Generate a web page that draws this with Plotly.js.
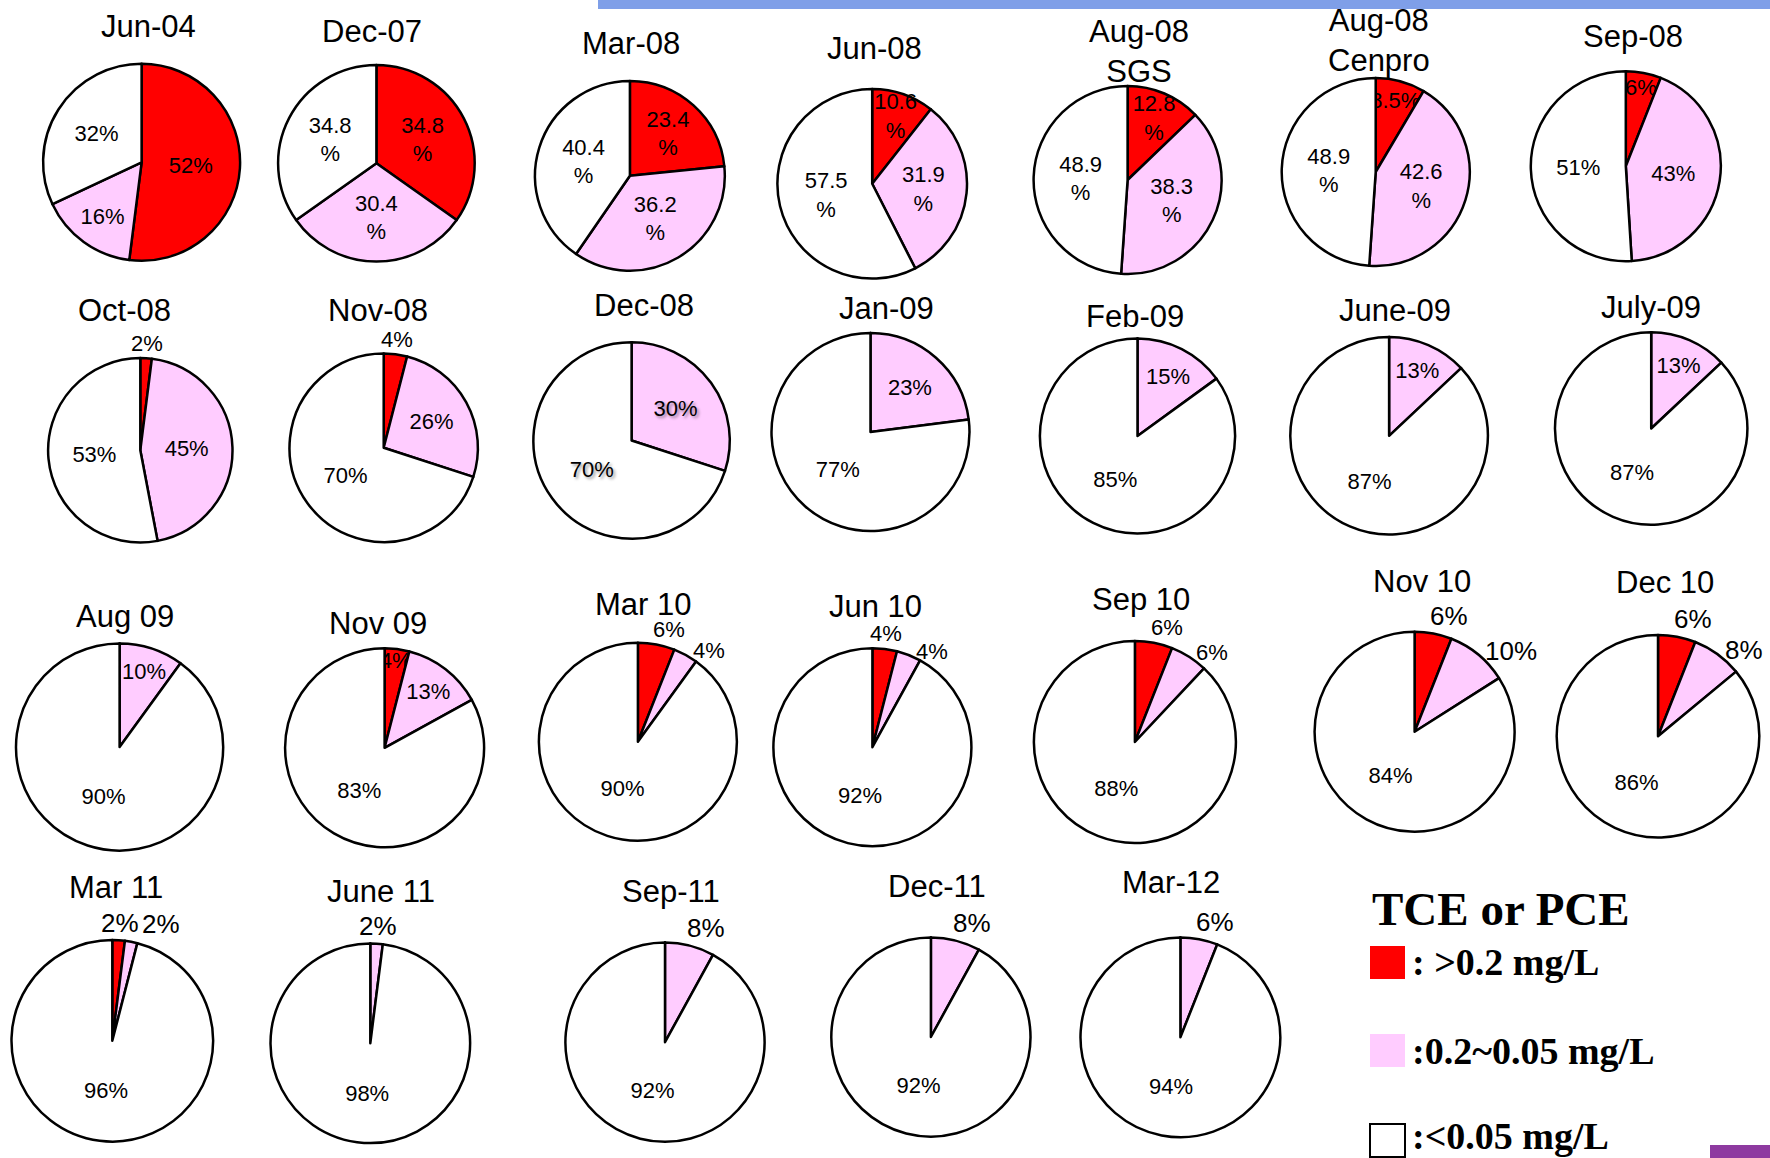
<!DOCTYPE html>
<html><head><meta charset="utf-8">
<script src="https://cdn.plot.ly/plotly-3.0.1.min.js"></script>
<style>html,body{margin:0;padding:0;background:#fff}#chart{width:1770px;height:1158px}</style>
</head><body><div id="chart"></div>
<script>
// ---- data ----
const dates = ['Jun-04','Dec-07','Mar-08','Jun-08','Aug-08<br>SGS','Aug-08<br>Cenpro','Sep-08',
  'Oct-08','Nov-08','Dec-08','Jan-09','Feb-09','June-09','July-09',
  'Aug 09','Nov 09','Mar 10','Jun 10','Sep 10','Nov 10','Dec 10',
  'Mar 11','June 11','Sep-11','Dec-11','Mar-12'];
const categories = ['>0.2 mg/L','0.2~0.05 mg/L','<0.05 mg/L'];
const high = [52,34.8,23.4,10.6,12.8,8.5,6, 2,4,0,0,0,0,0, 0,4,6,4,6,6,6, 2,0,0,0,0];
const mid  = [16,30.4,36.2,31.9,38.3,42.6,43, 45,26,30,23,15,13,13, 10,13,4,4,6,10,8, 2,2,8,8,6];
const low  = [32,34.8,40.4,57.5,48.9,48.9,51, 53,70,70,77,85,87,87, 90,83,90,92,88,84,86, 96,98,92,92,94];
const highLabels = ['52%','34.8<br>%','23.4<br>%','10.6<br>%','12.8<br>%','8.5%','6%',
  '2%','4%','','','','','', '','4%','6%','4%','6%','6%','6%', '2%','','','',''];
const midLabels = ['16%','30.4<br>%','36.2<br>%','31.9<br>%','38.3<br>%','42.6<br>%','43%',
  '45%','26%','30%','23%','15%','13%','13%', '10%','13%','4%','4%','6%','10%','8%', '2%','2%','8%','8%','6%'];
const lowLabels = ['32%','34.8<br>%','40.4<br>%','57.5<br>%','48.9<br>%','48.9<br>%','51%',
  '53%','70%','70%','77%','85%','87%','87%', '90%','83%','90%','92%','88%','84%','86%', '96%','98%','92%','92%','94%'];
const legendTitle = 'TCE or PCE';
const legendTexts = [': >0.2 mg/L', ':0.2~0.05 mg/L', ':<0.05 mg/L'];

// ---- layout / style ----
const W = 1770, H = 1158;
const FONT = 'Liberation Sans, Arial, sans-serif';
const sliceColors = ['#ff0000', '#ffccff', '#ffffff'];
const pieX = [141.6,376.4,629.9,872.2,1127.6,1375.7,1625.8, 140.3,383.7,631.6,870.5,1137.5,1389.1,1651.2,
  119.6,384.6,637.9,872.4,1134.9,1414.6,1658, 112.3,370.3,665,930.9,1180.4];
const pieY = [162.3,163.3,175.8,183.8,180,172,166.2, 450.3,447.8,440.5,432,436,435.8,428.5,
  747,747.8,741.7,747.2,742,731.7,736.2, 1040.8,1043.3,1042.2,1037,1037.3];
const pieR = [98.5,98.3,94.9,94.8,94,94,95, 92.2,94.2,98.2,99,97.6,98.8,96.2,
  103.6,99.5,99,99,101,100,101.3, 100.8,99.8,99.6,99.6,99.9];
const titleX = [148,372,631,874,1139,1379,1633, 124,378,644,887,1135,1395,1651,
  125,378,643,875,1141,1422,1665, 116,381,671,937,1171];
const titleY = [27,31,43,48,52,41,36, 310,310,305,308,317,311,307, 616,623,604,606,599,581,582, 887,891,891,886,882];
// i = label inside the slice, o = label outside the rim, n = no label
const placement = ['iii','iii','iii','iii','iii','iii','iii',
  'oii','oii','nii','nii','nii','nii','nii',
  'nii','iii','ooi','ooi','ooi','ooi','ooi',
  'ooi','noi','noi','noi','noi'];
const outSize = [22,22,22,22,22,22,22, 22,22,22,22,22,22,22, 22,22,22,22,22,26,26, 26,26,26,26,26];
const posMap = {i:'inside', o:'none', n:'none'};

const traces = dates.map((d, i) => ({
  type: 'pie', sort: false, direction: 'clockwise', rotation: 0,
  labels: categories,
  values: [high[i], mid[i], low[i]],
  text: [highLabels[i], midLabels[i], lowLabels[i]],
  textinfo: 'text',
  textposition: placement[i].split('').map(c => posMap[c]),
  insidetextorientation: 'horizontal',
  textfont: {family: FONT, size: 22, color: '#000',
             shadow: i === 9 ? '2px 2px 3px rgba(0,0,0,0.4)' : 'none'},
  marker: {colors: sliceColors, line: {color: '#000', width: 2.5}},
  domain: {x: [(pieX[i]-pieR[i])/W, (pieX[i]+pieR[i])/W],
           y: [1-(pieY[i]+pieR[i])/H, 1-(pieY[i]-pieR[i])/H]},
  showlegend: false,
  hoverinfo: 'label+percent'
}));

const annotations = dates.map((d, i) => ({
  text: d, xref: 'paper', yref: 'paper', x: titleX[i]/W, y: 1 - titleY[i]/H,
  xanchor: 'center', yanchor: 'middle', showarrow: false,
  font: {family: FONT, size: 31, color: '#000'}
}));

// outside labels of the small slices, placed at each slice's mid angle just beyond the rim
const ctx = document.createElement('canvas').getContext('2d');
function textW(t, fs) { ctx.font = fs + 'px "Liberation Sans", Arial, sans-serif'; return ctx.measureText(t).width; }
dates.forEach((d, i) => {
  const vals = [high[i], mid[i], low[i]];
  const texts = [highLabels[i], midLabels[i], lowLabels[i]];
  const tot = vals.reduce((a, b) => a + b, 0);
  let cum = 0, prevRight = -Infinity;
  for (let k = 0; k < 3; k++) {
    const th = (cum + vals[k] / 2) / tot * 2 * Math.PI;
    cum += vals[k];
    if (placement[i][k] !== 'o') continue;
    const r = pieR[i], fs = outSize[i];
    const px = pieX[i] + r * Math.sin(th), py = pieY[i] - r * Math.cos(th);
    const w = textW(texts[k], fs);
    const deg = th * 180 / Math.PI;
    let left, yc;
    if (deg < 8) { left = px - w / 2; yc = py - 3 - fs * 0.55; }
    else if (deg < 20) { left = px - 4; yc = py - 3 - fs * 0.55; }
    else { left = px + 6; yc = py - 4; }
    if (left < prevRight + 4) left = prevRight + 4;
    prevRight = left + w;
    annotations.push({
      text: texts[k], xref: 'paper', yref: 'paper', x: left / W, y: 1 - yc / H,
      xanchor: 'left', yanchor: 'middle', showarrow: false, borderpad: 0,
      font: {family: FONT, size: fs, color: '#000'}
    });
  }
});

// legend
const LX = 1370;
const legSqY = [946, 1034, 1124];
const legTextY = [962, 1051, 1136];
const legendFont = {family: 'Liberation Serif, Times New Roman, serif', size: 38, color: '#000'};
annotations.push({
  text: '<b>' + legendTitle + '</b>', xref: 'paper', yref: 'paper', x: LX/W, y: 1 - 909/H,
  xanchor: 'left', yanchor: 'middle', showarrow: false,
  font: {family: 'Liberation Serif, Times New Roman, serif', size: 47, color: '#000'}
});
legendTexts.forEach((t, k) => annotations.push({
  text: '<b>' + t + '</b>', xref: 'paper', yref: 'paper', x: (LX + 40)/W, y: 1 - legTextY[k]/H,
  xanchor: 'left', yanchor: 'middle', showarrow: false, font: legendFont
}));

const shapes = [
  {type: 'rect', xref: 'paper', yref: 'paper', x0: 598/W, x1: 1, y0: 1 - 9/H, y1: 1,
   fillcolor: '#7f9fe8', line: {width: 0}, layer: 'below'},
  {type: 'rect', xref: 'paper', yref: 'paper', x0: 1710/W, x1: 1, y0: 0, y1: 13/H,
   fillcolor: '#8e3aa0', line: {width: 0}}
];
sliceColors.forEach((c, k) => shapes.push({
  type: 'rect', xref: 'paper', yref: 'paper',
  x0: LX/W, x1: (LX + 35)/W, y0: 1 - (legSqY[k] + 33)/H, y1: 1 - legSqY[k]/H,
  fillcolor: c, line: {color: k === 2 ? '#000' : c, width: k === 2 ? 2 : 0}
}));

const layout = {
  width: W, height: H,
  margin: {l: 0, r: 0, t: 0, b: 0},
  paper_bgcolor: '#fff', plot_bgcolor: '#fff',
  showlegend: false,
  uniformtext: {mode: 'show', minsize: 22},
  annotations: annotations,
  shapes: shapes
};
Plotly.newPlot('chart', traces, layout, {displayModeBar: false, staticPlot: true});
</script></body></html>
